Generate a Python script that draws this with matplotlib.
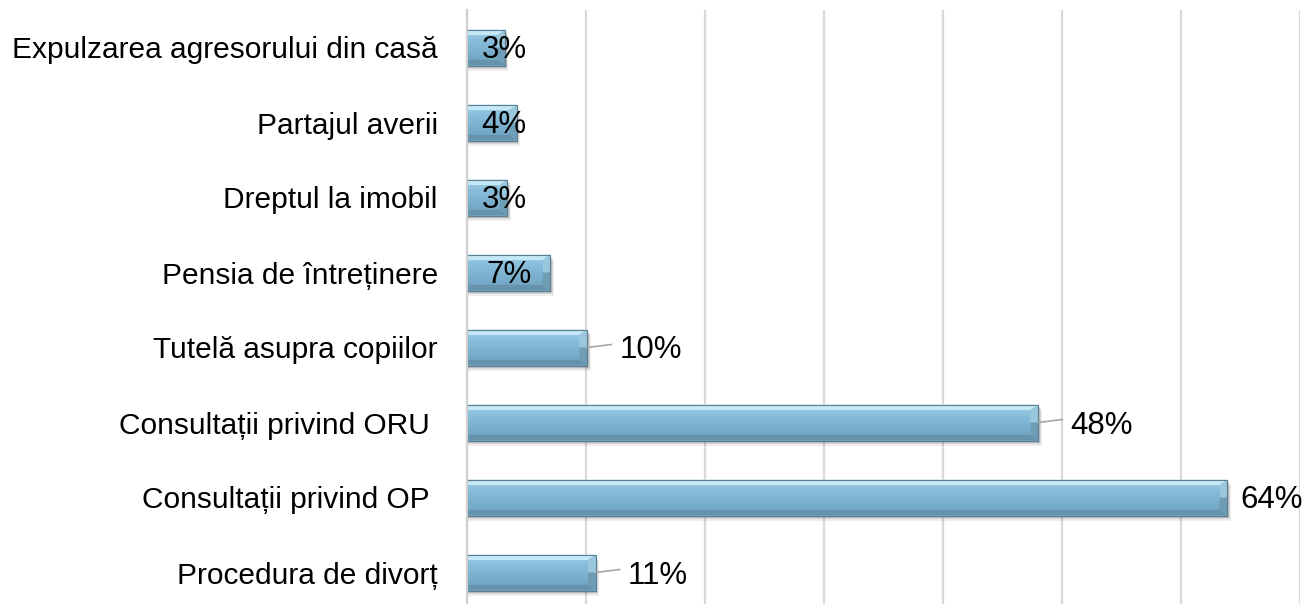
import matplotlib
matplotlib.use("Agg")
import matplotlib.pyplot as plt
from matplotlib.patches import Polygon, Rectangle
import numpy as np

plt.rcParams['font.family'] = ['Liberation Sans', 'DejaVu Sans']

# date (procente), de sus in jos
categorii = [
    "Expulzarea agresorului din casă",
    "Partajul averii",
    "Dreptul la imobil",
    "Pensia de întreținere",
    "Tutelă asupra copiilor",
    "Consultații privind ORU ",
    "Consultații privind OP ",
    "Procedura de divorț",
]
valori = [3.2, 4.2, 3.4, 7.0, 10.1, 48.0, 63.9, 10.8]
etichete = ["3%", "4%", "3%", "7%", "10%", "48%", "64%", "11%"]

W, H = 1306, 604
fig = plt.figure(figsize=(W / 100, H / 100), dpi=100)
# zona de desen: x 467..1300 px, y 10..610 px (depaseste putin jos)
ax = fig.add_axes([467 / W, (H - 610) / H, (1300 - 467) / W, 600 / H])

ax.set_xlim(0, 70)
ax.set_ylim(len(categorii) - 0.5, -0.5)
ax.set_xticks(np.arange(0, 71, 10))
ax.xaxis.grid(True, color="#d9d9d9", linewidth=1.6)
ax.set_axisbelow(True)
ax.tick_params(axis="x", length=0, labelbottom=False)
ax.tick_params(axis="y", length=0, pad=21)
for s in ["top", "right", "bottom"]:
    ax.spines[s].set_visible(False)
ax.spines["left"].set_color("#d0d0d0")
ax.spines["left"].set_linewidth(1.6)

y = np.arange(len(categorii))
ax.set_yticks(y)
ax.set_yticklabels(categorii, fontsize=21.5)

h = 0.48
bw = 0.65   # latimea teşiturii (unitati x)
bh = 0.075  # inaltimea teşiturii (unitati y)

# gradient vertical pentru corpul barelor
g = np.linspace(0, 1, 64)[:, None]
c_top = np.array([0.60, 0.80, 0.90])
c_mid = np.array([0.50, 0.71, 0.83])
c_bot = np.array([0.43, 0.63, 0.75])
img = np.where(g < 0.5,
               c_top + (c_mid - c_top) * (g / 0.5),
               c_mid + (c_bot - c_mid) * ((g - 0.5) / 0.5))
img = img.reshape(64, 1, 3)

bars = ax.barh(y, valori, height=h, color="#7fb3cf", edgecolor="none", zorder=2)
for yi, v, b in zip(y, valori, bars):
    y0, y1 = yi - h / 2, yi + h / 2
    # umbra
    for k, a in [(0.07, 0.07), (0.05, 0.09), (0.03, 0.12)]:
        ax.add_patch(Rectangle((0, y0 + k), v + k * 4, h, color="black",
                               alpha=a, lw=0, zorder=1.5))
    im = ax.imshow(img, extent=(0, v, y1, y0), aspect="auto", zorder=2.1,
                   interpolation="bilinear")
    im.set_clip_path(b)
    # teşituri
    ax.add_patch(Polygon([(0, y0), (v, y0), (v - bw, y0 + bh), (0, y0 + bh)],
                         closed=True, color="#c4e8f5", lw=0, zorder=2.2))
    ax.add_patch(Polygon([(0, y1), (v, y1), (v - bw, y1 - bh), (0, y1 - bh)],
                         closed=True, color="#6593ab", lw=0, zorder=2.2))
    ax.add_patch(Polygon([(v, y0), (v, yi), (v - bw, yi), (v - bw, y0 + bh)],
                         closed=True, color="#9ac7db", lw=0, zorder=2.2))
    ax.add_patch(Polygon([(v, yi), (v, y1), (v - bw, y1 - bh), (v - bw, yi)],
                         closed=True, color="#6f9db6", lw=0, zorder=2.2))
    ax.add_patch(Rectangle((0, y0), v, h, fill=False, edgecolor="#5a7d90",
                           lw=0.8, zorder=2.3))

# etichete de date
fs = 22.5
for yi, v, t in zip(y, valori, etichete):
    if v < 8:
        ax.text(max(v / 2, 3.1), yi + 0.03, t, ha="center", va="center",
                fontsize=fs, color="black", zorder=3)
    elif v < 60:
        gap = 2.7
        ax.plot([v, v + gap * 0.75], [yi, yi - 0.04], color="#a6a6a6",
                lw=1.2, zorder=2.5)
        ax.text(v + gap, yi + 0.04, t, ha="left", va="center", fontsize=fs,
                zorder=3)
    else:
        ax.text(v + 1.1, yi + 0.03, t, ha="left", va="center", fontsize=fs,
                zorder=3)

fig.savefig("out.png", dpi=100)
